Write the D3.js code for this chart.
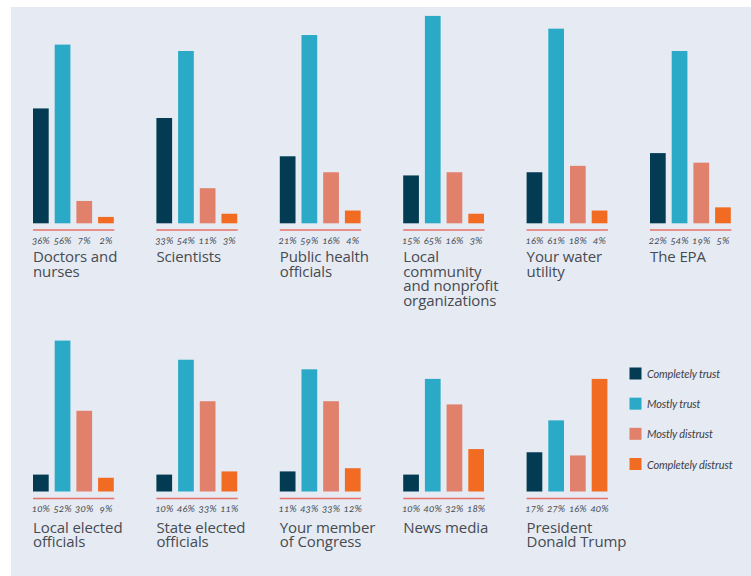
<!DOCTYPE html>
<html>
<head>
<meta charset="utf-8">
<script src="https://cdn.jsdelivr.net/npm/d3@7/dist/d3.min.js"></script>
<style>
  html, body { margin: 0; padding: 0; background: #ffffff; }
  svg { display: block; }
  .title { font-family: "Open Sans", sans-serif; font-size: 15px; fill: #474b51; letter-spacing: -0.1px; }
  .val { font-family: Lato, sans-serif; font-style: italic; font-size: 10px; fill: #4a4e54; font-variant-numeric: oldstyle-nums; }
  .leg { font-family: Lato, sans-serif; font-style: italic; font-size: 11px; fill: #3d4147; letter-spacing: -0.15px; }
</style>
</head>
<body>
<svg id="chart" width="751" height="576"></svg>
<script>
// Trust levels (one bar per level in every group)
const levels = ["Completely trust", "Mostly trust", "Mostly distrust", "Completely distrust"];
const levelColors = ["#033c52", "#2aaac6", "#e1806b", "#f26b22"];

// Groups, first row then second row
const topRowGroups = [
  ["Doctors and", "nurses"],
  ["Scientists"],
  ["Public health", "officials"],
  ["Local", "community", "and nonprofit", "organizations"],
  ["Your water", "utility"],
  ["The EPA"]
];
const bottomRowGroups = [
  ["Local elected", "officials"],
  ["State elected", "officials"],
  ["Your member", "of Congress"],
  ["News media"],
  ["President", "Donald Trump"]
];

// Percentages per group, in the order of `levels`
const topRowValues = [
  [36, 56, 7, 2],
  [33, 54, 11, 3],
  [21, 59, 16, 4],
  [15, 65, 16, 3],
  [16, 61, 18, 4],
  [22, 54, 19, 5]
];
const bottomRowValues = [
  [10, 52, 30, 9],
  [10, 46, 33, 11],
  [11, 43, 33, 12],
  [10, 40, 32, 18],
  [17, 27, 16, 40]
];

const svg = d3.select("#chart");

// Panel background
svg.append("rect")
  .attr("x", 11).attr("y", 7)
  .attr("width", 740).attr("height", 569)
  .attr("fill", "#e5eaf3");

// Column positions shared by both rows
const colX = d3.scaleLinear().domain([0, 1]).range([33, 156.4]);

// Bars inside a group
const barX = d3.scaleBand().domain(d3.range(levels.length))
  .range([0, 80.8]).paddingInner(0.276).paddingOuter(0);

// Vertical scales for each row
const yTop = d3.scaleLinear().domain([0, 65]).range([223.3, 15.9]);
const yBottom = d3.scaleLinear().domain([4.7, 52]).range([491.5, 340.6]);

function drawRow(groups, values, y, lineY, labelY, titleY) {
  const base = y.range()[0];
  groups.forEach((title, i) => {
    const g = svg.append("g").attr("transform", `translate(${colX(i)},0)`);

    g.selectAll("rect.bar")
      .data(values[i])
      .join("rect")
      .attr("class", "bar")
      .attr("x", (d, j) => barX(j))
      .attr("width", barX.bandwidth())
      .attr("y", d => y(d))
      .attr("height", d => base - y(d))
      .attr("fill", (d, j) => levelColors[j]);

    g.append("line")
      .attr("x1", 0).attr("x2", 81.3)
      .attr("y1", lineY).attr("y2", lineY)
      .attr("stroke", "#e8716a").attr("stroke-width", 1.3);

    g.selectAll("text.val")
      .data(values[i])
      .join("text")
      .attr("class", "val")
      .attr("x", (d, j) => barX(j) + barX.bandwidth() / 2)
      .attr("y", labelY)
      .attr("text-anchor", "middle")
      .attr("dominant-baseline", "central")
      .text(d => d + "%");

    const t = g.append("text").attr("class", "title").attr("y", titleY);
    title.forEach((line, k) => {
      t.append("tspan").attr("x", 0).attr("dy", k === 0 ? 0 : 14.6).text(line);
    });
  });
}

drawRow(topRowGroups, topRowValues, yTop, 230, 239.5, 262);
drawRow(bottomRowGroups, bottomRowValues, yBottom, 498.5, 508, 532.5);

// Legend
const legY = d3.scalePoint().domain(levels).range([373.5, 464]);
const leg = svg.append("g");
leg.selectAll("rect")
  .data(levels)
  .join("rect")
  .attr("x", 629.5)
  .attr("y", d => legY(d) - 6)
  .attr("width", 12).attr("height", 12)
  .attr("fill", (d, i) => levelColors[i]);
leg.selectAll("text")
  .data(levels)
  .join("text")
  .attr("class", "leg")
  .attr("x", 647)
  .attr("y", d => legY(d))
  .attr("dominant-baseline", "central")
  .text(d => d);
</script>
</body>
</html>
